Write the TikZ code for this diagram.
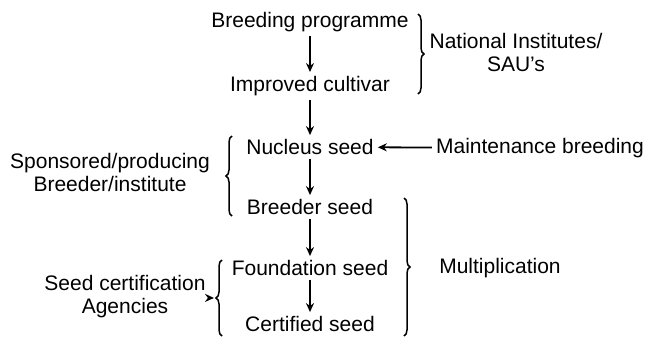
\documentclass[tikz,border=0pt]{standalone}
\usepackage{fontspec}
\setmainfont{Liberation Sans}
\usetikzlibrary{arrows.meta,decorations.pathreplacing}
\tikzset{
  seed/.style={inner sep=1pt,font=\fontsize{21}{23}\selectfont},
  lbl/.style={inner sep=1pt,align=center,font=\fontsize{21}{23}\selectfont},
  flow/.style={-{Stealth[length=9pt,width=8pt]},line width=1.8pt,shorten <=3pt,shorten >=3pt},
  brc/.style={decorate,decoration={brace,amplitude=6pt},line width=1.5pt}
}
\begin{document}
\begin{tikzpicture}[x=1pt,y=-1pt]
  \useasboundingbox (0,0) rectangle (646,341);
  \node[seed] (breeding) at (310,22) {Breeding programme};
  \node[seed] (cultivar) at (310,86) {Improved cultivar};
  \node[seed] (nucleus) at (310,147) {Nucleus seed};
  \node[seed] (breeder) at (310,207) {Breeder seed};
  \node[seed] (foundation) at (310,268) {Foundation seed};
  \node[seed] (certified) at (310,324) {Certified seed};
  \node[lbl] (national) at (516,52) {National Institutes/\\SAU's};
  \node[lbl] (maintain) at (540,148) {Maintenance breeding};
  \node[lbl] (sponsor) at (110,172) {Sponsored/producing\\Breeder/institute};
  \node[lbl] (agency) at (125,297) {Seed certification\\Agencies};
  \node[lbl] (multiply) at (500,268) {Multiplication};
  \draw[flow] (breeding) to (cultivar);
  \draw[flow] (cultivar) to (nucleus);
  \draw[flow] (nucleus) to (breeder);
  \draw[flow] (breeder) to (foundation);
  \draw[flow] (foundation) to (certified);
  \draw[flow] (maintain) to (nucleus);
  % brackets
  \draw[brc] (418,14) -- (418,94);
  \draw[brc] (404,198) -- (404,336);
  \draw[brc] (232,216) -- (232,136);
  \draw[brc] (222,336) -- (222,260);
  \coordinate (lowtip) at (214,298);
  \draw[flow,shorten >=0pt] (agency) to (lowtip);
\end{tikzpicture}
\end{document}
